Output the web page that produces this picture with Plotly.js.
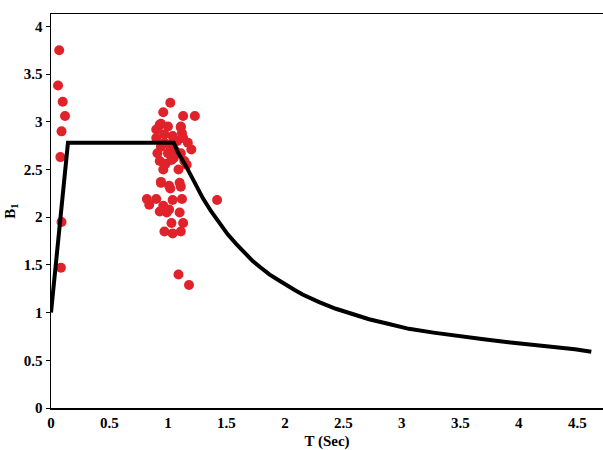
<!DOCTYPE html>
<html>
<head>
<meta charset="utf-8">
<script src="https://cdn.plot.ly/plotly-3.0.1.min.js"></script>
<style>html,body{margin:0;padding:0;background:#fff;}#chart{width:603px;height:450px;}</style>
</head>
<body>
<div id="chart"></div>
<script>
// Design spectrum curve
const curveT = [0, 0.145, 1.05, 1.085, 1.157, 1.228, 1.298, 1.370, 1.441, 1.511, 1.583, 1.655, 1.725, 1.795, 1.867, 1.94, 2.009, 2.08, 2.151, 2.22, 2.293, 2.436, 2.577, 2.72, 2.89, 3.06, 3.27, 3.49, 3.70, 3.91, 4.12, 4.34, 4.48, 4.62];
const curveB = [1.0, 2.78, 2.78, 2.68, 2.53, 2.36, 2.20, 2.06, 1.93, 1.82, 1.72, 1.63, 1.54, 1.47, 1.40, 1.345, 1.29, 1.24, 1.19, 1.15, 1.11, 1.04, 0.98, 0.93, 0.88, 0.83, 0.79, 0.75, 0.72, 0.69, 0.665, 0.64, 0.615, 0.59];

const pointT = [
  0.07, 0.06, 0.10, 0.12, 0.09, 0.08, 0.09, 0.085,
  1.02, 0.96, 1.13, 1.23, 0.94, 0.90, 1.11,
  0.93, 0.91, 1.11, 0.90, 0.97, 1.04, 1.13, 0.94, 1.01, 1.17, 1.20,
  0.91, 1.00, 1.11, 0.93, 1.03, 1.14, 0.96, 1.09, 1.16,
  0.97, 1.06, 1.05, 0.98, 1.08, 1.00, 1.12,
  0.94, 1.01, 1.10, 0.94, 1.02, 1.11,
  0.82, 0.90, 0.84, 1.04, 1.12, 1.42, 0.96, 0.93, 0.99, 1.01, 1.10,
  1.03, 1.13, 0.97, 1.04, 1.11, 1.09, 1.18
];
const pointB = [
  3.75, 3.38, 3.21, 3.06, 2.90, 2.63, 1.95, 1.47,
  3.20, 3.10, 3.06, 3.06, 2.98, 2.92, 2.94,
  2.97, 2.92, 2.95, 2.83, 2.87, 2.85, 2.83, 2.74, 2.76, 2.78, 2.71,
  2.67, 2.67, 2.67, 2.59, 2.60, 2.59, 2.50, 2.50, 2.55,
  2.78, 2.70, 2.62, 2.56, 2.80, 2.95, 2.88,
  2.36, 2.33, 2.36, 2.37, 2.30, 2.32,
  2.19, 2.19, 2.13, 2.18, 2.19, 2.18, 2.12, 2.06, 2.05, 2.08, 2.05,
  1.94, 1.94, 1.85, 1.83, 1.85, 1.40, 1.29
];

const xTicks = [0, 0.5, 1, 1.5, 2, 2.5, 3, 3.5, 4, 4.5];
const yTicks = [0, 0.5, 1, 1.5, 2, 2.5, 3, 3.5, 4];

const serif = 'Liberation Serif, Times New Roman, serif';
const tickFont = {family: serif, size: 15, color: '#000', weight: 'bold'};

const traces = [
  {
    x: pointT, y: pointB, type: 'scatter', mode: 'markers',
    marker: {color: '#e0232b', size: 10},
    hoverinfo: 'skip', showlegend: false
  },
  {
    x: curveT, y: curveB, type: 'scatter', mode: 'lines',
    line: {color: '#000', width: 4},
    hoverinfo: 'skip', showlegend: false
  }
];

const layout = {
  width: 603, height: 450,
  margin: {l: 51, r: 0, t: 14, b: 42},
  paper_bgcolor: '#fff', plot_bgcolor: '#fff',
  xaxis: {
    range: [0, 4.72], tickvals: xTicks, ticktext: xTicks.map(String),
    showgrid: false, zeroline: false, showline: true, linecolor: '#000', linewidth: 1.5, mirror: true,
    ticks: '', tickfont: tickFont,
    title: {text: 'T (Sec)', font: {family: serif, size: 15, color: '#000', weight: 'bold'}, standoff: 10}
  },
  yaxis: {
    range: [0, 4.13], tickvals: yTicks, ticktext: yTicks.map(String),
    showgrid: false, zeroline: false, showline: true, linecolor: '#000', linewidth: 1.5, mirror: true,
    ticks: 'outside', ticklen: 4, tickcolor: '#000', tickfont: tickFont,
    title: {text: 'B<sub>1</sub>', font: {family: serif, size: 15, color: '#000', weight: 'bold'}, standoff: 4}
  }
};

Plotly.newPlot('chart', traces, layout, {staticPlot: true, displayModeBar: false});
</script>
</body>
</html>
